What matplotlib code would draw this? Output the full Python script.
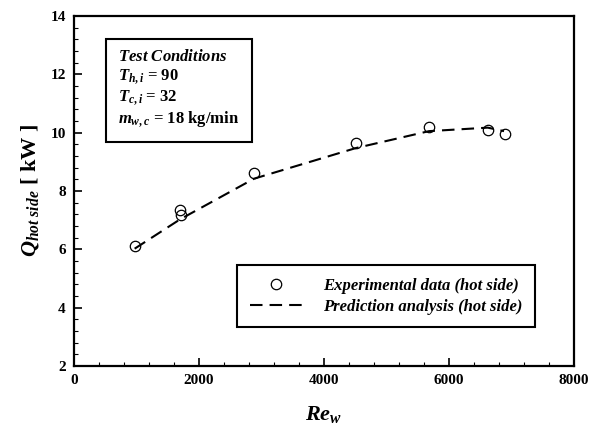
import matplotlib
matplotlib.use("Agg")
import matplotlib.pyplot as plt
from matplotlib.ticker import MultipleLocator

plt.rcParams['font.family'] = ['Liberation Serif', 'DejaVu Serif']
plt.rcParams['font.weight'] = 'bold'
plt.rcParams['axes.labelweight'] = 'bold'
plt.rcParams['mathtext.fontset'] = 'custom'
plt.rcParams['mathtext.rm'] = 'Liberation Serif:bold'
plt.rcParams['mathtext.it'] = 'Liberation Serif:italic:bold'
plt.rcParams['mathtext.bf'] = 'Liberation Serif:bold'

# measured heat load on the hot side
re_exp = [970, 1690, 1710, 2880, 4510, 5680, 6620, 6895]
q_exp = [6.11, 7.36, 7.19, 8.63, 9.66, 10.19, 10.10, 9.94]

# prediction curve
re_pred = [970, 1700, 2880, 4510, 5680, 6620, 6880]
q_pred = [6.02, 7.03, 8.42, 9.47, 10.05, 10.17, 10.05]

fig = plt.figure(figsize=(5.97, 4.25), dpi=100)
ax = fig.add_axes([0.124, 0.139, 0.8375, 0.8235])

ax.plot(re_pred, q_pred, color='black', linestyle=(0, (6, 3.4)), linewidth=1.5,
        label='Prediction analysis (hot side)')
ax.plot(re_exp, q_exp, linestyle='none', marker='o', markersize=7.5,
        markerfacecolor='none', markeredgecolor='black', markeredgewidth=0.9,
        label='Experimental data (hot side)')

ax.set_xlim(0, 8000)
ax.set_ylim(2, 14)
ax.xaxis.set_major_locator(MultipleLocator(2000))
ax.xaxis.set_minor_locator(MultipleLocator(400))
ax.yaxis.set_major_locator(MultipleLocator(2))
ax.yaxis.set_minor_locator(MultipleLocator(0.4))
ax.tick_params(which='both', direction='in', top=False, right=False,
               labelsize=11)
ax.tick_params(which='major', length=6, width=1.2, pad=6)
ax.tick_params(which='minor', length=3, width=0.8)
for lbl in ax.get_xticklabels() + ax.get_yticklabels():
    lbl.set_fontweight('bold')
for sp in ax.spines.values():
    sp.set_linewidth(1.6)

ax.set_xlabel(r'$Re_{w}$', fontsize=16, labelpad=12)
ax.set_ylabel(r'$Q_{hot\ side}$ [ kW ]', fontsize=16, labelpad=7)

ax.text(0.088, 0.905,
        '$Test\\ Conditions$\n$T_{h,i}$ = 90\n$T_{c,i}$ = 32\n$m_{w,c}$ = 18 kg/min',
        transform=ax.transAxes, fontsize=12, va='top', ha='left',
        linespacing=1.15,
        bbox=dict(boxstyle='square,pad=0.75', facecolor='white',
                  edgecolor='black', linewidth=1.5))

handles, labels = ax.get_legend_handles_labels()
leg = ax.legend(handles[::-1], labels[::-1], loc='lower right',
                bbox_to_anchor=(0.922, 0.111), borderaxespad=0,
                frameon=True, fancybox=False,
                edgecolor='black', handlelength=3.2, handletextpad=1.2,
                borderpad=0.75, labelspacing=0.3,
                prop={'family': 'Liberation Serif', 'style': 'italic',
                      'weight': 'bold', 'size': 12})
leg.get_frame().set_linewidth(1.5)
leg.get_frame().set_alpha(1)

fig.savefig('out.png', dpi=100)
